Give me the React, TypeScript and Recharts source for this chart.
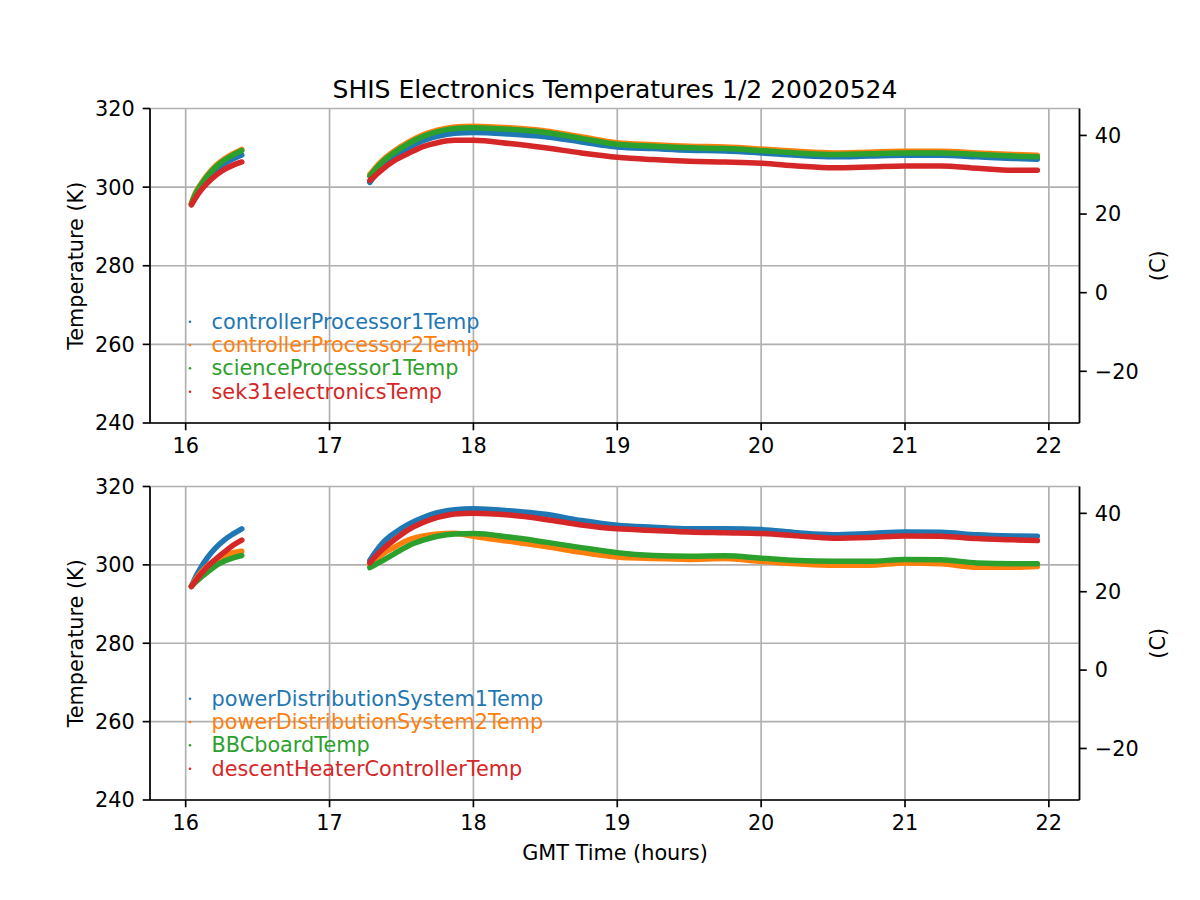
import React from 'react';
import { LineChart, Line, XAxis, YAxis, CartesianGrid } from 'recharts';

// Time axis (GMT hours); 16.8 is the data gap between the two recording segments
const HOURS = [16.04, 16.07, 16.1, 16.15, 16.21, 16.27, 16.33, 16.39, 16.8, 17.28, 17.32, 17.37, 17.45, 17.55, 17.65, 17.75, 17.87, 18.0, 18.25, 18.5, 18.75, 19.0, 19.25, 19.5, 19.75, 20.0, 20.25, 20.5, 20.75, 21.0, 21.25, 21.5, 21.75, 21.92];

// Top panel series (K)
const CONTROLLER_PROCESSOR_1 = [295.6, 298.0, 299.7, 302.2, 304.4, 306.0, 307.2, 308.2, null, 301.2, 303.2, 305.3, 307.7, 310.0, 311.8, 312.9, 313.7, 313.9, 313.5, 312.8, 311.5, 310.2, 309.8, 309.4, 309.2, 308.7, 308.1, 307.7, 307.9, 308.1, 308.1, 307.7, 307.3, 307.1];
const CONTROLLER_PROCESSOR_2 = [296.0, 298.7, 300.5, 303.1, 305.5, 307.2, 308.5, 309.6, null, 303.2, 305.0, 306.9, 309.2, 311.5, 313.3, 314.5, 315.3, 315.5, 315.1, 314.3, 312.8, 311.3, 310.8, 310.4, 310.2, 309.7, 309.1, 308.7, 308.9, 309.1, 309.1, 308.7, 308.3, 308.1];
const SCIENCE_PROCESSOR_1 = [295.8, 298.4, 300.2, 302.8, 305.2, 306.9, 308.2, 309.3, null, 302.8, 304.6, 306.5, 308.8, 311.1, 312.9, 314.1, 314.9, 315.1, 314.7, 313.9, 312.4, 310.9, 310.4, 310.0, 309.8, 309.3, 308.7, 308.3, 308.5, 308.7, 308.7, 308.3, 307.9, 307.7];
const SEK31_ELECTRONICS = [295.5, 297.3, 298.9, 301.0, 303.0, 304.5, 305.6, 306.4, null, 301.7, 303.0, 304.6, 306.7, 308.6, 310.3, 311.3, 311.9, 311.9, 311.1, 310.0, 308.7, 307.6, 307.0, 306.6, 306.4, 306.1, 305.4, 304.9, 305.1, 305.4, 305.4, 304.8, 304.3, 304.3];

// Bottom panel series (K)
const POWER_DIST_1 = [294.5, 297.0, 299.0, 301.8, 304.4, 306.4, 307.9, 309.2, null, 301.1, 303.3, 305.6, 308.1, 310.4, 312.1, 313.3, 314.1, 314.3, 313.8, 312.9, 311.3, 310.1, 309.6, 309.2, 309.2, 309.0, 308.2, 307.7, 308.0, 308.4, 308.3, 307.7, 307.4, 307.3];
const POWER_DIST_2 = [294.5, 296.3, 297.8, 299.7, 301.3, 302.4, 303.1, 303.5, null, 299.9, 301.3, 302.8, 304.5, 306.4, 307.4, 307.9, 308.1, 307.3, 306.0, 304.7, 303.2, 302.0, 301.6, 301.4, 301.6, 300.9, 300.3, 299.9, 299.9, 300.5, 300.3, 299.4, 299.4, 299.6];
const BBC_BOARD = [294.5, 295.6, 296.6, 298.1, 299.8, 301.0, 301.8, 302.4, null, 299.3, 300.1, 301.1, 302.8, 304.9, 306.3, 307.3, 307.9, 308.0, 307.1, 305.8, 304.4, 303.1, 302.4, 302.2, 302.3, 301.7, 301.1, 300.9, 300.9, 301.4, 301.3, 300.5, 300.3, 300.3];
const DESCENT_HEATER = [294.5, 296.0, 297.4, 299.5, 301.5, 303.3, 305.0, 306.3, null, 300.5, 302.2, 304.0, 306.4, 309.0, 310.8, 312.1, 313.0, 313.2, 312.7, 311.6, 310.2, 309.2, 308.8, 308.4, 308.2, 308.0, 307.4, 306.8, 307.0, 307.4, 307.3, 306.7, 306.4, 306.2];

const TOP_NAMES = ['controllerProcessor1Temp', 'controllerProcessor2Temp', 'scienceProcessor1Temp', 'sek31electronicsTemp'];
const BOTTOM_NAMES = ['powerDistributionSystem1Temp', 'powerDistributionSystem2Temp', 'BBCboardTemp', 'descentHeaterControllerTemp'];
const COLORS = ['#1f77b4', '#ff7f0e', '#2ca02c', '#d62728'];

const X_TICKS = [16, 17, 18, 19, 20, 21, 22];
const K_TICKS = [240, 260, 280, 300, 320];
const C_TICKS = [-20, 0, 20, 40];
const X_DOMAIN: [number, number] = [15.752, 22.213];
const K_DOMAIN: [number, number] = [240, 320];
const C_DOMAIN: [number, number] = [240 - 273.15, 320 - 273.15];

const TITLE = 'SHIS Electronics Temperatures 1/2 20020524';
const FONT = 'DejaVu Sans, sans-serif';
const FS = 20.8;

function buildRows(series: (number | null)[][]) {
  return HOURS.map((t, i) => {
    const row: Record<string, number | null> = { t };
    series.forEach((s, j) => {
      row['s' + j] = s[i];
    });
    return row;
  });
}

const TOP_ROWS = buildRows([CONTROLLER_PROCESSOR_1, CONTROLLER_PROCESSOR_2, SCIENCE_PROCESSOR_1, SEK31_ELECTRONICS]);
const BOTTOM_ROWS = buildRows([POWER_DIST_1, POWER_DIST_2, BBC_BOARD, DESCENT_HEATER]);

const tickStyle = { fontSize: FS, fill: '#000', fontFamily: FONT };
const axisStroke = { stroke: '#000', strokeWidth: 1.67 };

function Panel(props: { rows: Record<string, number | null>[]; top: number; height: number; marginTop: number; marginBottom: number }) {
  const { rows, top, height, marginTop, marginBottom } = props;
  return (
    <div style={{ position: 'absolute', left: 0, top, width: 1200, height }}>
      <LineChart
        width={1200}
        height={height}
        data={rows}
        margin={{ top: marginTop, right: 50.5, bottom: marginBottom, left: 80 }}
        style={{ fontFamily: FONT }}
      >
        <CartesianGrid stroke="#b0b0b0" strokeWidth={1.67} />
        <XAxis
          dataKey="t"
          type="number"
          domain={X_DOMAIN}
          ticks={X_TICKS}
          interval={0}
          allowDataOverflow
          height={40}
          tickSize={7.3}
          tickMargin={8}
          tick={tickStyle}
          axisLine={axisStroke}
          tickLine={axisStroke}
        />
        <XAxis
          xAxisId="top"
          orientation="top"
          dataKey="t"
          type="number"
          domain={X_DOMAIN}
          allowDataOverflow
          height={0}
          tick={false}
          tickLine={false}
          axisLine={axisStroke}
        />
        <YAxis
          type="number"
          domain={K_DOMAIN}
          ticks={K_TICKS}
          interval={0}
          allowDataOverflow
          width={70}
          tickSize={7.3}
          tickMargin={8}
          tick={tickStyle}
          axisLine={axisStroke}
          tickLine={axisStroke}
        />
        <YAxis
          yAxisId="c"
          orientation="right"
          type="number"
          domain={C_DOMAIN}
          ticks={C_TICKS}
          interval={0}
          allowDataOverflow
          width={70}
          tickSize={7.3}
          tickMargin={8}
          tick={tickStyle}
          axisLine={axisStroke}
          tickLine={axisStroke}
          tickFormatter={(v: number) => String(v).replace('-', '\u2212')}
        />
        {COLORS.map((c, j) => (
          <Line
            key={j}
            dataKey={'s' + j}
            stroke={c}
            strokeWidth={5.5}
            strokeLinecap="round"
            strokeLinejoin="round"
            dot={false}
            type="monotone"
            connectNulls={false}
            isAnimationActive={false}
          />
        ))}
      </LineChart>
    </div>
  );
}

function LegendBlock(props: { names: string[]; axesBottom: number }) {
  const { names, axesBottom } = props;
  const offsets = [101.3, 78, 54.7, 31.3];
  return (
    <g>
      {names.map((n, i) => {
        const y = axesBottom - offsets[i];
        return (
          <g key={n}>
            <circle cx={190} cy={y} r={1.3} fill={COLORS[i]} />
            <text x={211.5} y={y} dominantBaseline="central" fontSize={FS} fontFamily={FONT} fill={COLORS[i]}>
              {n}
            </text>
          </g>
        );
      })}
    </g>
  );
}

export default function App() {
  return (
    <div style={{ position: 'absolute', left: 0, top: 0, width: 1200, height: 900, background: '#fff' }}>
      <Panel rows={TOP_ROWS} top={0} height={470} marginTop={108.5} marginBottom={7} />
      <Panel rows={BOTTOM_ROWS} top={450} height={450} marginTop={36.5} marginBottom={60} />
      <svg width={1200} height={900} style={{ position: 'absolute', left: 0, top: 0, pointerEvents: 'none' }}>
        <text x={615} y={98} textAnchor="middle" fontSize={25} fontFamily={FONT} fill="#000">
          {TITLE}
        </text>
        <text x={76} y={265.75} textAnchor="middle" dominantBaseline="central" fontSize={FS} fontFamily={FONT} fill="#000" transform="rotate(-90 76 265.75)">
          Temperature (K)
        </text>
        <text x={76} y={643.25} textAnchor="middle" dominantBaseline="central" fontSize={FS} fontFamily={FONT} fill="#000" transform="rotate(-90 76 643.25)">
          Temperature (K)
        </text>
        <text x={1158} y={265.75} textAnchor="middle" dominantBaseline="central" fontSize={FS} fontFamily={FONT} fill="#000" transform="rotate(-90 1158 265.75)">
          (C)
        </text>
        <text x={1158} y={643.25} textAnchor="middle" dominantBaseline="central" fontSize={FS} fontFamily={FONT} fill="#000" transform="rotate(-90 1158 643.25)">
          (C)
        </text>
        <text x={615} y={859.5} textAnchor="middle" fontSize={FS} fontFamily={FONT} fill="#000">
          GMT Time (hours)
        </text>
        <LegendBlock names={TOP_NAMES} axesBottom={423} />
        <LegendBlock names={BOTTOM_NAMES} axesBottom={800} />
      </svg>
    </div>
  );
}
